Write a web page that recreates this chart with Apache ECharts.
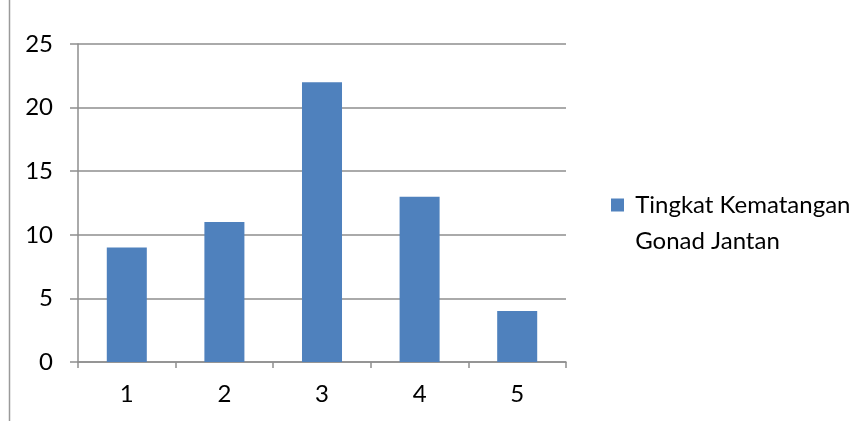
<!DOCTYPE html>
<html><head><meta charset="utf-8">
<script src="https://cdn.jsdelivr.net/npm/echarts@6/dist/echarts.min.js"></script>
<style>html,body{margin:0;padding:0;background:#fff}#c{width:866px;height:421px}</style>
</head><body><div id="c"></div>
<script>
const categories = ['1', '2', '3', '4', '5'];
const values = [9, 11, 22, 13, 4];
const seriesName = 'Tingkat Kematangan\nGonad Jantan';
const yTicks = { min: 0, max: 25, interval: 5 };

const chart = echarts.init(document.getElementById('c'));
const font = 'Lato, "Open Sans", sans-serif';
const fs = 24;
chart.setOption({
  animation: false,
  backgroundColor: '#ffffff',
  graphic: [{ type: 'line', shape: { x1: 9.5, y1: 0, x2: 9.5, y2: 421 }, style: { stroke: '#9a9a9a', lineWidth: 1.5 } }],
  grid: { left: 78, right: 300, top: 44, bottom: 59 },
  legend: {
    left: 611, top: 151, padding: 0,
    itemWidth: 13, itemHeight: 13, itemGap: 0,
    icon: 'rect',
    formatter: function (name) { return ' \n' + name.split('\n').map(function (s) { return ' ' + s; }).join('\n'); },
    textStyle: { fontFamily: font, fontSize: fs, color: '#000', lineHeight: 36 },
    data: [seriesName]
  },
  xAxis: {
    type: 'category', data: categories,
    axisLine: { lineStyle: { color: '#8e8e8e', width: 1.5 } },
    axisTick: { show: true, length: 6, alignWithLabel: false, lineStyle: { color: '#8e8e8e', width: 1.5 } },
    axisLabel: { fontFamily: font, fontSize: fs, color: '#000', margin: 20 }
  },
  yAxis: {
    type: 'value', min: yTicks.min, max: yTicks.max, interval: yTicks.interval,
    axisLine: { show: true, lineStyle: { color: '#8e8e8e', width: 1.5 } },
    axisTick: { show: true, length: 8, lineStyle: { color: '#8e8e8e', width: 1.5 } },
    splitLine: { lineStyle: { color: '#8e8e8e', width: 1.5 } },
    axisLabel: { fontFamily: font, fontSize: fs, color: '#000', margin: 25 }
  },
  series: [{
    name: seriesName, type: 'bar', data: values,
    barCategoryGap: '59%',
    itemStyle: { color: '#4f81bd' }
  }]
});
</script></body></html>
